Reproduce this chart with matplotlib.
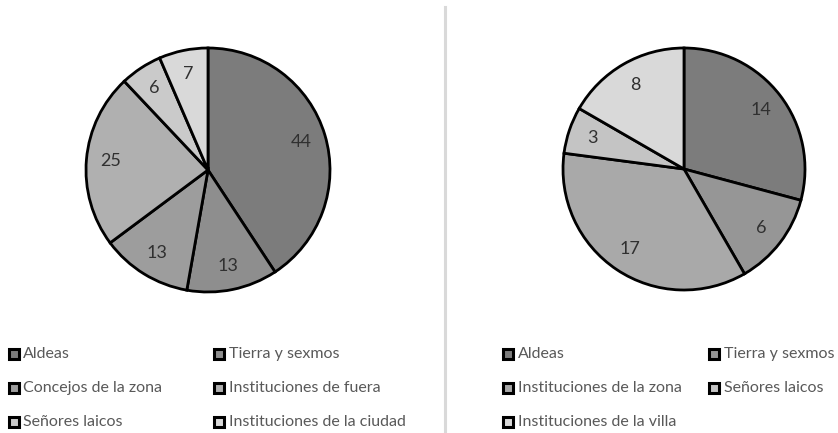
import matplotlib
matplotlib.use('Agg')
import matplotlib.pyplot as plt
from matplotlib.patches import Rectangle
from matplotlib.lines import Line2D

plt.rcParams['font.family'] = ['Lato', 'DejaVu Sans']

# Left chart: ciudad
left_labels = ['Aldeas', 'Tierra y sexmos', 'Concejos de la zona',
               'Instituciones de fuera', 'Señores laicos', 'Instituciones de la ciudad']
left_values = [44, 13, 13, 25, 6, 7]
left_colors = ['#7c7c7c', '#8e8e8e', '#9d9d9d', '#b0b0b0', '#cacaca', '#d9d9d9']

# Right chart: villa
right_labels = ['Aldeas', 'Tierra y sexmos', 'Instituciones de la zona',
                'Señores laicos', 'Instituciones de la villa']
right_values = [14, 6, 17, 3, 8]
right_colors = ['#7c7c7c', '#969696', '#a9a9a9', '#c4c4c4', '#d9d9d9']

W, H = 838, 433
fig = plt.figure(figsize=(W / 100, H / 100), dpi=100)


def px_axes(cx, cy, r):
    # axes in pixel coords (origin top-left)
    return fig.add_axes([(cx - r) / W, (H - cy - r) / H, 2 * r / W, 2 * r / H])


def draw_pie(ax, values, colors):
    wedges, texts = ax.pie(values, colors=colors, startangle=90, counterclock=False,
                           labels=[str(v) for v in values], labeldistance=0.8,
                           wedgeprops=dict(edgecolor='black', linewidth=2.0),
                           textprops=dict(fontsize=13, color='#303030'))
    for t in texts:
        t.set_ha('center')
        t.set_va('center')
    ax.set_xlim(-1, 1)
    ax.set_ylim(-1, 1)
    ax.set_aspect('equal')
    ax.axis('off')


def draw_legend(labels, colors, cols_x, rows_y):
    for i, (lab, col) in enumerate(zip(labels, colors)):
        x = cols_x[i % 2]
        y = rows_y[i // 2]
        fig.patches.append(Rectangle(((x - 5) / W, (H - y - 5) / H), 10 / W, 10 / H,
                                     transform=fig.transFigure, facecolor=col,
                                     edgecolor='black', linewidth=2.2))
        fig.text((x + 9.5) / W, (H - y) / H, lab, fontsize=11.5, color='#595959',
                 ha='left', va='center')


draw_pie(px_axes(208, 170, 122), left_values, left_colors)
draw_pie(px_axes(684, 169, 121), right_values, right_colors)

rows = [354, 388, 422]
draw_legend(left_labels, left_colors, [13.5, 219], rows)
draw_legend(right_labels, right_colors, [508, 714], rows)

# divider between the two charts
fig.lines.append(Line2D([445 / W, 445 / W], [0, (H - 7) / H], transform=fig.transFigure,
                        color='#d9d9d9', linewidth=2.2))

fig.savefig('out.png', dpi=100)
